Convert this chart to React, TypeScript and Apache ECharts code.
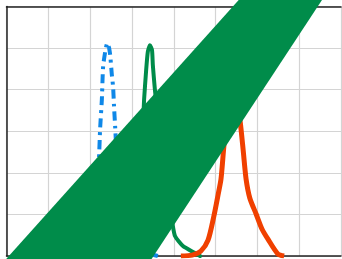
import React, { useEffect, useRef } from "react";
import * as echarts from "echarts";

const blueX = [1.18, 1.52, 1.76, 1.95, 2.09, 2.16, 2.21, 2.24, 2.28, 2.31, 2.36, 2.40, 2.43, 2.45, 2.48, 2.52, 2.55, 2.57, 2.60, 2.64, 2.71, 2.86, 3.05, 3.31, 3.62];
const blueY = [0, 0.02, 0.10, 0.29, 0.75, 1.59, 2.31, 3.08, 3.75, 4.55, 4.91, 5.10, 5.12, 5.03, 4.83, 4.35, 4.06, 3.63, 3.08, 2.31, 1.47, 0.75, 0.29, 0.10, 0];

const greenX = [2.24, 2.59, 2.83, 3.03, 3.15, 3.22, 3.26, 3.29, 3.34, 3.38, 3.43, 3.48, 3.50, 3.55, 3.60, 3.67, 3.77, 3.86, 3.96, 4.03, 4.22, 4.51, 4.63];
const greenY = [0, 0.05, 0.14, 0.38, 0.87, 1.83, 3.03, 3.75, 4.47, 4.91, 5.07, 4.95, 4.59, 3.99, 3.51, 2.79, 1.95, 1.23, 0.82, 0.48, 0.24, 0.07, 0];

const orangeX = [4.17, 4.44, 4.65, 4.82, 4.96, 5.06, 5.13, 5.20, 5.25, 5.32, 5.42, 5.51, 5.59, 5.66, 5.73, 5.82, 5.97, 6.11, 6.25, 6.49, 6.64];
const orangeY = [0, 0.02, 0.12, 0.38, 0.96, 1.47, 1.85, 2.65, 3.05, 3.75, 4.33, 3.75, 3.22, 2.55, 1.85, 1.39, 1.01, 0.65, 0.41, 0.05, 0];

const bandX = [-0.39, 5.86, 7.77, 3.19];
const bandY = [-0.5, 6.5, 6.5, -0.5];

const xTicks = [0, 1, 2, 3, 4, 5, 6, 7, 8];
const yTicks = [0, 1, 2, 3, 4, 5, 6];

const zip = (xs: number[], ys: number[]) => xs.map((x, i) => [x, ys[i]]);

export default function App() {
  const ref = useRef<HTMLDivElement>(null);
  useEffect(() => {
    if (!ref.current) return;
    const chart = echarts.init(ref.current, undefined, { renderer: "svg" });
    const gridLine = { show: true, lineStyle: { color: "#d4d4d4", width: 1.2 } };
    chart.setOption({
      animation: false,
      grid: { left: 6.5, top: 6.5, right: 1, bottom: 3, containLabel: false },
      xAxis: [
        {
          type: "value",
          min: xTicks[0],
          max: xTicks[xTicks.length - 1],
          interval: 1,
          position: "bottom",
          axisLine: { show: true, onZero: false, lineStyle: { color: "#222", width: 1.5 } },
          axisTick: { show: false },
          axisLabel: { show: false },
          splitLine: gridLine,
        },
        {
          type: "value",
          min: xTicks[0],
          max: xTicks[xTicks.length - 1],
          interval: 1,
          position: "top",
          axisLine: { show: true, onZero: false, lineStyle: { color: "#222", width: 1.5 } },
          axisTick: { show: false },
          axisLabel: { show: false },
          splitLine: { show: false },
        },
      ],
      yAxis: {
        type: "value",
        min: yTicks[0],
        max: yTicks[yTicks.length - 1],
        interval: 1,
        axisLine: { show: true, onZero: false, lineStyle: { color: "#222", width: 1.5 } },
        axisTick: { show: false },
        axisLabel: { show: false },
        splitLine: gridLine,
      },
      series: [
        {
          type: "line",
          data: zip(blueX, blueY),
          showSymbol: false,
          smooth: 0.2,
          lineStyle: { color: "#0f88e8", width: 4, type: [9, 5, 3, 5], cap: "butt" },
          z: 2,
        },
        {
          type: "line",
          data: zip(greenX, greenY),
          showSymbol: false,
          smooth: 0.2,
          lineStyle: { color: "#008c4a", width: 4, cap: "round", join: "round" },
          z: 2,
        },
        {
          type: "line",
          data: zip(orangeX, orangeY),
          showSymbol: false,
          smooth: 0.25,
          lineStyle: { color: "#f04000", width: 5, cap: "butt", join: "round" },
          z: 2,
        },
        {
          type: "custom",
          clip: false,
          z: 5,
          data: [0],
          renderItem: (params: any, api: any) => {
            const pts = bandX.map((x, i) => api.coord([x, bandY[i]]));
            return {
              type: "polygon",
              shape: { points: pts },
              style: { fill: "#008c4a" },
            };
          },
        },
      ],
    });
    return () => chart.dispose();
  }, []);
  return (
    <div
      ref={ref}
      style={{ position: "fixed", left: 0, top: 0, width: 342, height: 259 }}
    />
  );
}
